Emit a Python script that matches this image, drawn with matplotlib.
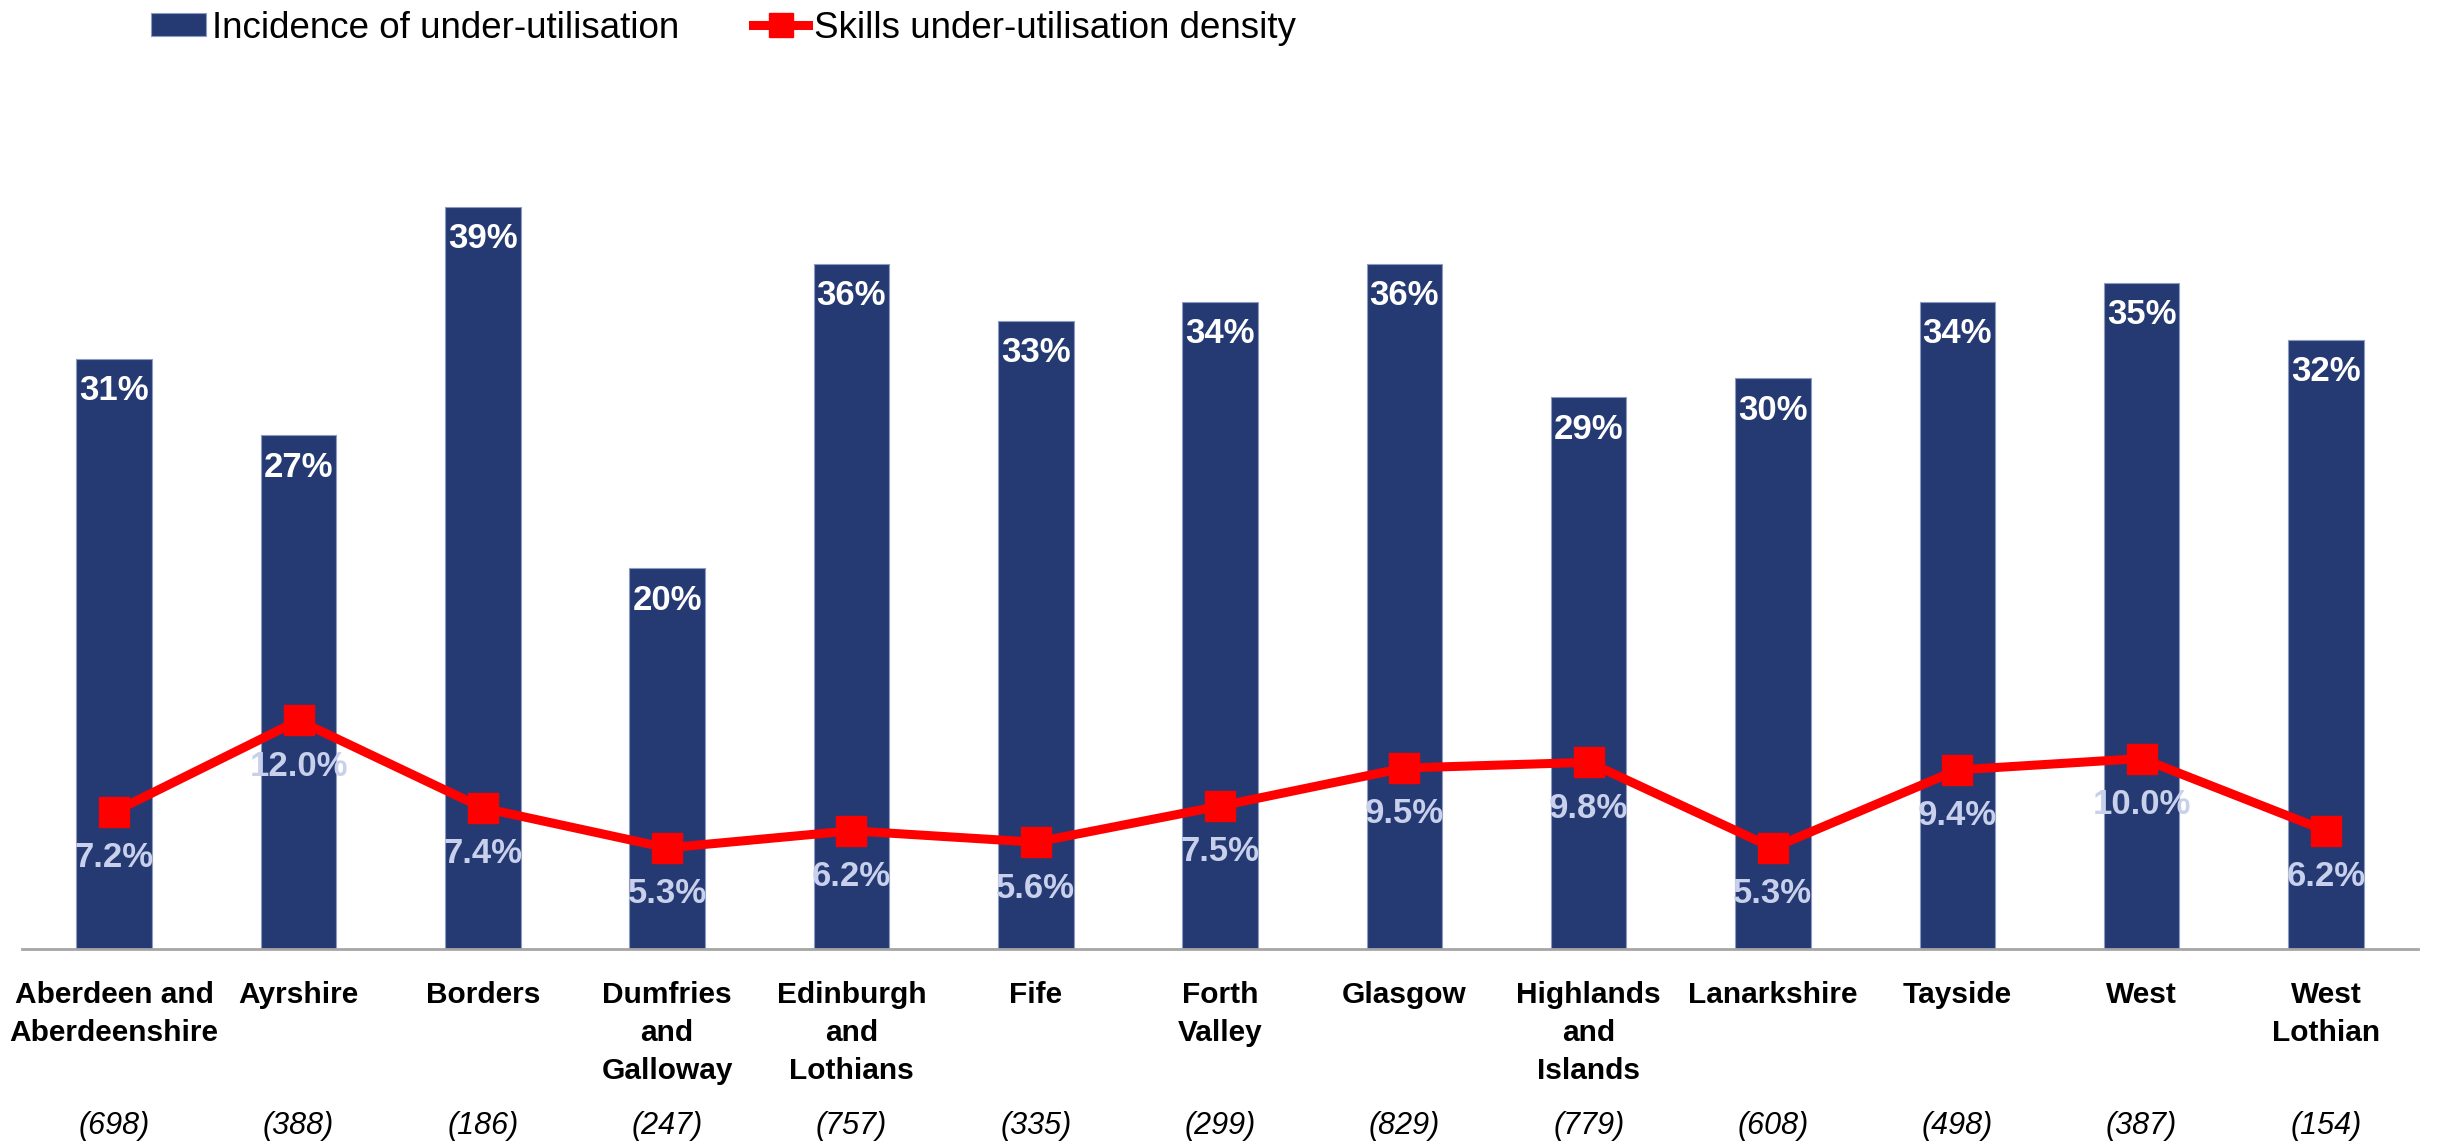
import numpy as np
import matplotlib
matplotlib.use('Agg')
import matplotlib.pyplot as plt
import matplotlib.transforms as mtransforms

plt.rcParams['font.family'] = ['Liberation Sans', 'DejaVu Sans']

regions = ['Aberdeen and\nAberdeenshire', 'Ayrshire', 'Borders', 'Dumfries\nand\nGalloway',
           'Edinburgh\nand\nLothians', 'Fife', 'Forth\nValley', 'Glasgow',
           'Highlands\nand\nIslands', 'Lanarkshire', 'Tayside', 'West', 'West\nLothian']
incidence = [31, 27, 39, 20, 36, 33, 34, 36, 29, 30, 34, 35, 32]
density = [7.2, 12.0, 7.4, 5.3, 6.2, 5.6, 7.5, 9.5, 9.8, 5.3, 9.4, 10.0, 6.2]
base_n = [698, 388, 186, 247, 757, 335, 299, 829, 779, 608, 498, 387, 154]

navy = '#253A73'
red = '#FF0000'

fig = plt.figure(figsize=(24.48, 11.44), dpi=100)
ax = fig.add_axes([0.009, 0.1707, 0.9788, 0.7316])

x = np.arange(len(regions))
bars = ax.bar(x, incidence, width=0.41, color=navy, edgecolor='#8E9BC0', linewidth=0.8,
              label='Incidence of under-utilisation', zorder=2)
line, = ax.plot(x, density, color=red, lw=6.5, marker='s', markersize=22,
                label='Skills under-utilisation density', zorder=3)

for xi, v in zip(x, incidence):
    ax.annotate(f'{v}%', (xi, v), xytext=(0, -23), textcoords='offset points',
                ha='center', va='center', color='white', fontsize=25, fontweight='bold', zorder=4)
for xi, v in zip(x, density):
    ax.annotate(f'{v:.1f}%', (xi, v), xytext=(0, -33), textcoords='offset points',
                ha='center', va='center', color='#C8D0EC', fontsize=25, fontweight='bold', zorder=4)

ax.set_xlim(-0.5, 12.5)
ax.set_ylim(0, 44)
ax.set_yticks([])
for s in ['top', 'right', 'left']:
    ax.spines[s].set_visible(False)
ax.spines['bottom'].set_color('#A6A6A6')
ax.spines['bottom'].set_linewidth(2)
ax.spines['bottom'].set_zorder(5)

ax.set_xticks(x)
ax.set_xticklabels(regions, fontsize=21.5, fontweight='bold', linespacing=1.47,
                   ha='center', va='top')
ax.tick_params(axis='x', length=0, pad=23)

trans = mtransforms.blended_transform_factory(ax.transData, ax.transAxes)
for xi, n in zip(x, base_n):
    ax.text(xi, -0.212, f'({n})', transform=trans, ha='center', va='center',
            fontsize=22, fontstyle='italic')

fig.legend(handles=[bars, line], loc='center left', bbox_to_anchor=(0.054, 1 - 28 / 1144),
           ncol=2, frameon=False, fontsize=26.5, borderpad=0, handlelength=1.5,
           handletextpad=0.17, columnspacing=2.0, markerscale=0.8, handleheight=0.6)

fig.savefig('out.png', dpi=100)
